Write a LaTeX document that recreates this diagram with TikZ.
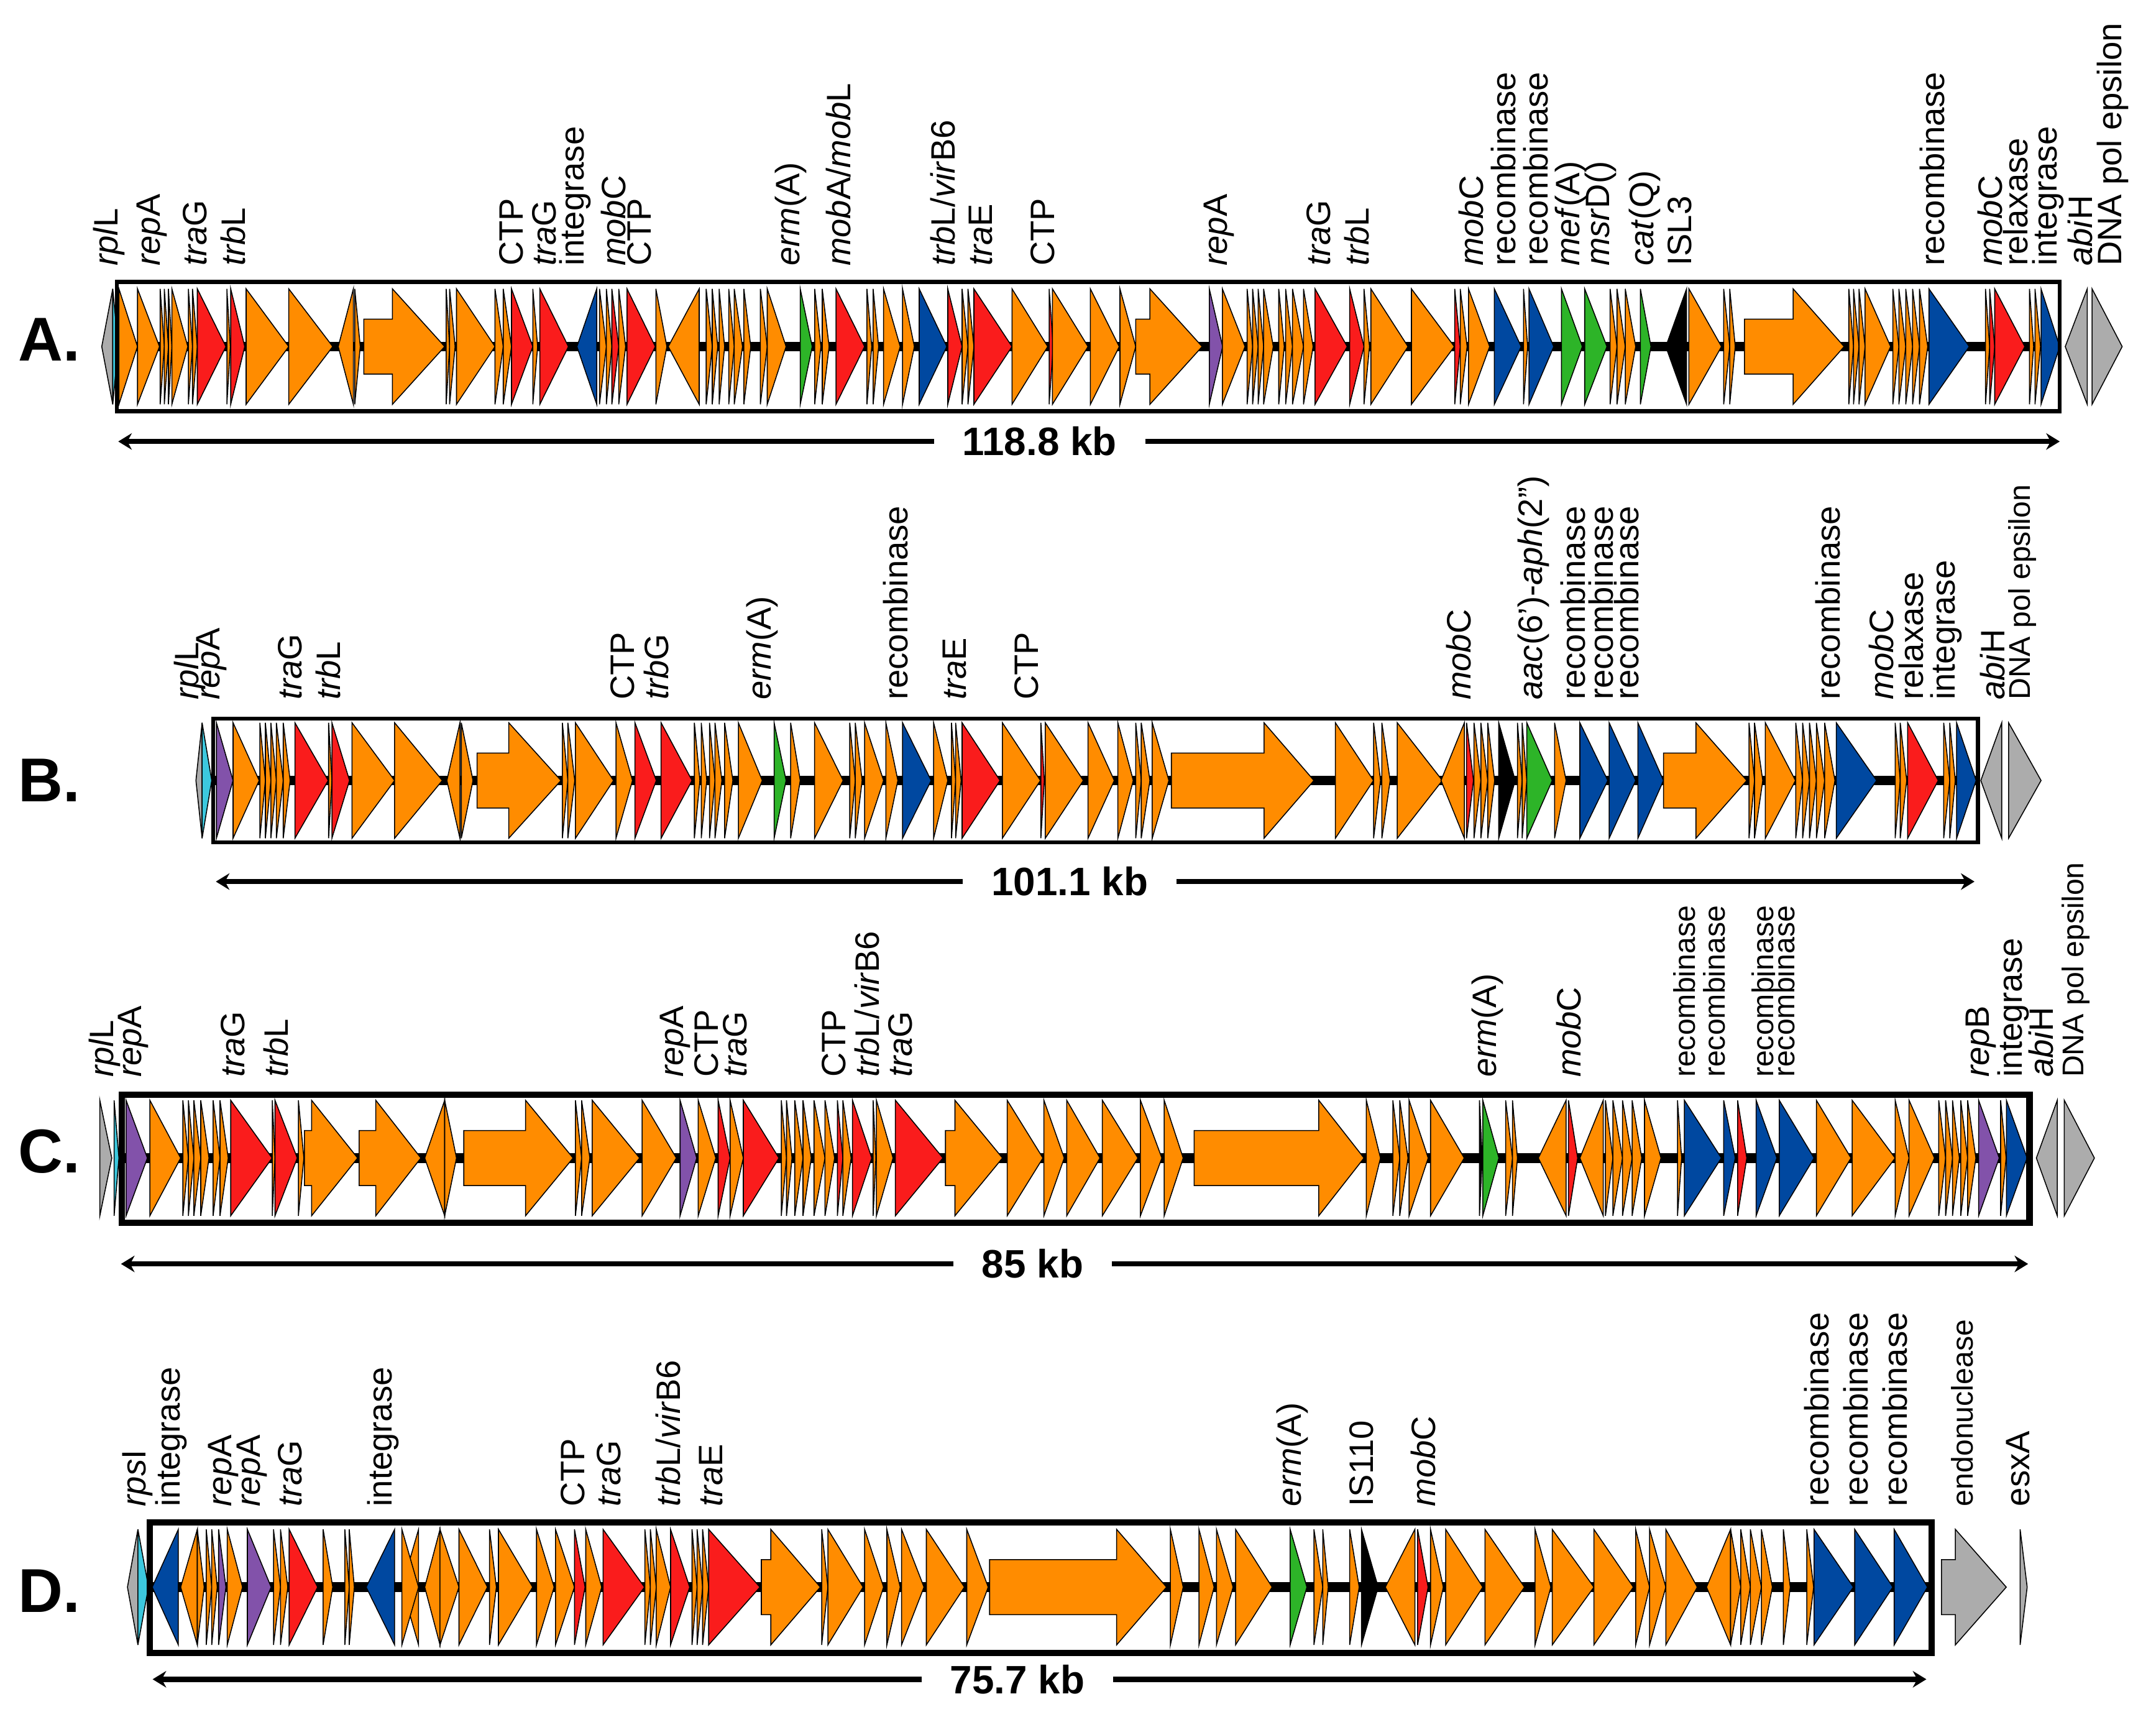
\documentclass[tikz,border=0pt]{standalone}
\usepackage{fontspec}
\setmainfont{Liberation Sans}
\usepackage{tikz}
\usetikzlibrary{arrows.meta}
\definecolor{gor}{RGB}{255,140,0}
\definecolor{grd}{RGB}{250,28,28}
\definecolor{gbl}{RGB}{0,72,160}
\definecolor{ggr}{RGB}{45,180,40}
\definecolor{gpu}{RGB}{130,82,170}
\definecolor{ggy}{RGB}{172,172,172}
\definecolor{gcy}{RGB}{60,200,222}
\definecolor{gbk}{RGB}{0,0,0}
\tikzset{
        gene/.style = {draw=black, line width=0.2pt},
        lbl/.style = {rotate=90, anchor=west, inner sep=0pt,
            font=\fontsize{7}{8}\selectfont},
        lbl_s/.style = {font=\fontsize{6.2}{7}\selectfont},
        rowlab/.style = {inner sep=0pt, font=\fontsize{12.8}{14}\selectfont\bfseries},
        kblab/.style = {inner ysep=0pt, inner xsep=0.2cm,
            font=\fontsize{8.2}{9}\selectfont\bfseries},
        frame_n/.style = {draw=black, line width=0.8pt},
        frame_t/.style = {draw=black, line width=1.3pt},
        spine/.style = {draw=black, line width=2pt},
        kbline/.style = {line width=1.1pt}
    }
% gene as a plain head: start, tip, colour
\newcommand{\gene}[3]{\filldraw[gene,fill=#3] (#1,-42) -- (#1,42) -- (#2,0) -- cycle;}
% gene with a body: start, head start, tip, colour
\newcommand{\longgene}[4]{\filldraw[gene,fill=#4] (#1,-20) -- (#2,-20) -- (#2,-42)
    -- (#3,0) -- (#2,42) -- (#2,20) -- (#1,20) -- cycle;}
% rotated gene label: [options] name, x, text
\newcommand{\glab}[4][]{\node[lbl,#1] (#2) at (#3,-58) {#4};}

\begin{document}
\begin{tikzpicture}[x=0.01cm, y=-0.01cm, >={Stealth[length=2.8pt,width=3.4pt]}]
\useasboundingbox (0,0) rectangle (1568,1248);

%% ---------------- A ----------------
\begin{scope}[shift={(0,252)}]
\node[rowlab] (rowA) at (36,-5) {A.};
\draw[spine] (86,0) -- (1497,0);
\gene{82}{74}{ggy} \gene{82}{86}{gcy}
\gene{86.5}{100}{gor} \gene{100}{116}{gor} \gene{116.5}{119.5}{gor} \gene{119.5}{122.5}{gor}
\gene{122.5}{125}{gor} \gene{125}{136.6}{gor} \gene{137}{140}{gor} \gene{140}{143.5}{gor}
\gene{143.5}{164.3}{grd} \gene{165}{167.5}{gor} \gene{167.8}{178}{grd}
\gene{179}{210}{gor} \gene{210}{242}{gor} \gene{257}{246}{gor} \gene{258}{262}{gor}
\longgene{264.6}{285.4}{323.4}{gor}
\gene{324.5}{327}{gor} \gene{327}{331}{gor} \gene{332}{360}{gor} \gene{360}{366}{gor}
\gene{366}{372}{gor} \gene{372}{387.5}{grd} \gene{387.5}{391}{gor} \gene{392.6}{413.4}{grd}
\gene{434}{419.6}{gbl} \gene{436}{441}{gor} \gene{441}{445}{gor} \gene{445}{450}{grd}
\gene{450}{455}{gor} \gene{456}{476.6}{grd} \gene{477}{485}{gor} \gene{508.5}{486}{gor}
\gene{513.6}{518}{gor} \gene{518}{522}{gor} \gene{523}{527}{gor} \gene{530}{534}{gor}
\gene{534}{540}{gor} \gene{541}{546}{gor} \gene{553}{558}{gor} \gene{558}{571.7}{gor}
\gene{582}{590.7}{ggr} \gene{592.5}{597}{gor} \gene{598}{603}{gor} \gene{608}{628.8}{grd}
\gene{630.5}{634}{gor} \gene{635}{639}{gor} \gene{642.6}{654.7}{gor} \gene{656.4}{665}{gor}
\gene{668.5}{688.6}{gbl} \gene{689.3}{699.7}{grd} \gene{699.7}{704}{gor} \gene{704}{708.3}{gor}
\gene{708.3}{736}{grd} \gene{736}{762}{gor} \gene{763}{766}{grd} \gene{765.4}{791.3}{gor}
\gene{793}{814}{gor} \gene{814.5}{826}{gor}
\longgene{826}{836.3}{874.3}{gor}
\gene{879.5}{889.2}{gpu} \gene{889}{905.5}{gor} \gene{907}{911}{gor} \gene{911}{915}{gor}
\gene{915}{919}{gor} \gene{919}{926}{gor} \gene{930}{934}{gor} \gene{935}{940}{gor}
\gene{940}{948}{gor} \gene{948}{955}{gor} \gene{956.4}{979.8}{grd} \gene{981.6}{992}{grd}
\gene{992}{996}{gor} \gene{997}{1024}{gor} \gene{1026.5}{1057.7}{gor} \gene{1058}{1062}{grd}
\gene{1062}{1067}{gor} \gene{1068}{1083.4}{gor} \gene{1086.8}{1106.3}{gbl} \gene{1108}{1111}{gor}
\gene{1112}{1130}{gbl} \gene{1135.6}{1150.8}{ggr} \gene{1152.5}{1168.7}{ggr}
\gene{1171}{1176}{gor} \gene{1176}{1182}{gor} \gene{1182}{1189.6}{gor} \gene{1193}{1200.7}{ggr}
\gene{1226.6}{1211.5}{gbk} \gene{1228.3}{1252}{gor} \gene{1253.6}{1258}{gor} \gene{1258}{1262}{gor}
\longgene{1268.7}{1304.1}{1341.2}{gor}
\gene{1344.6}{1348}{gor} \gene{1348}{1352}{gor} \gene{1352}{1356.4}{gor} \gene{1356.4}{1375}{gor}
\gene{1376.6}{1381}{gor} \gene{1381}{1386}{gor} \gene{1386}{1391}{gor} \gene{1391}{1396}{gor}
\gene{1396}{1402}{gor} \gene{1402.9}{1432.2}{gbl} \gene{1444}{1447}{gor} \gene{1447}{1450.7}{grd}
\gene{1450.7}{1472.6}{grd} \gene{1476}{1479}{gor} \gene{1480}{1484}{gor} \gene{1484.4}{1498}{gbl}
\gene{1518}{1502}{ggy} \gene{1521.5}{1543.4}{ggy}
\draw[frame_n] (85,-47) rectangle (1498,47);
\glab{la1}{79.5}{\textit{rpl}L} \glab{la2}{110.7}{\textit{rep}A} \glab{la3}{141.8}{\textit{tra}G}
\glab{la4}{169.5}{\textit{trb}L} \glab{la5}{371.8}{CTP} \glab{la6}{396}{\textit{tra}G}
\glab{la7}{418.5}{integrase} \glab{la8}{446}{\textit{mob}C} \glab{la9}{465.2}{CTP}
\glab{la10}{575}{\textit{erm}(A)} \glab{la11}{609.7}{\textit{mob}A/\textit{mob}L}
\glab{la12}{685.8}{\textit{trb}L/\textit{vir}B6} \glab{la13}{713.5}{\textit{tra}E}
\glab{la14}{758.5}{CTP} \glab{la15}{886.5}{\textit{rep}A} \glab{la16}{959}{\textit{tra}G}
\glab{la17}{986.8}{\textit{trb}L} \glab{la18}{1070}{\textit{mob}C} \glab{la19}{1093.5}{recombinase}
\glab{la20}{1117}{recombinase} \glab{la21}{1142.4}{\textit{mef}(A)} \glab{la22}{1164.3}{\textit{msr}D()}
\glab{la23}{1196.3}{\textit{cat}(Q)} \glab{la24}{1221.6}{ISL3} \glab{la25}{1405.2}{recombinase}
\glab{la26}{1447.3}{\textit{mob}C} \glab{la27}{1465.9}{relaxase} \glab{la28}{1489.5}{integrase}
\glab{la29}{1513}{\textit{abi}H} \glab{la30}{1536.6}{DNA pol epsilon}
\end{scope}
\node[kblab] (kbA) at (756,321) {118.8 kb};
\coordinate (kbA_l) at (86,321);
\coordinate (kbA_r) at (1498,321);
\draw[kbline,->] (kbA.west) -- (kbA_l);
\draw[kbline,->] (kbA.east) -- (kbA_r);

%% ---------------- B ----------------
\begin{scope}[shift={(0,567.5)}]
\node[rowlab] (rowB) at (36,0) {B.};
\draw[spine] (156,0) -- (1437,0);
\gene{147}{142.5}{ggy} \gene{147}{154}{gcy}
\gene{157.4}{169.5}{gpu} \gene{169.5}{188.5}{gor} \gene{189}{193}{gor} \gene{193}{197}{gor}
\gene{197}{201}{gor} \gene{201}{206}{gor} \gene{206}{211}{gor} \gene{214.5}{238.7}{grd}
\gene{239}{241.4}{gor} \gene{241.4}{254.2}{grd} \gene{256}{287}{gor} \gene{287}{321.7}{gor}
\gene{334.5}{325}{gor} \gene{335.5}{344}{gor}
\longgene{347}{370}{408}{gor}
\gene{409}{413}{gor} \gene{413}{418}{gor} \gene{418.5}{446.2}{gor} \gene{448}{460}{gor}
\gene{461.8}{477.3}{grd} \gene{480.8}{503.3}{grd} \gene{505}{509}{gor} \gene{510}{514}{gor}
\gene{516}{520}{gor} \gene{520}{525}{gor} \gene{527}{533}{gor} \gene{537}{554.4}{gor}
\gene{563}{571.7}{ggr} \gene{575}{582}{gor} \gene{592.4}{613.2}{gor} \gene{618}{622}{gor}
\gene{622}{627}{gor} \gene{628.8}{642.6}{gor} \gene{644.3}{653}{gor} \gene{656.4}{677.2}{gbl}
\gene{679}{689.3}{gor} \gene{692}{695}{gor} \gene{695}{699}{gor} \gene{699.7}{727.3}{grd}
\gene{729}{756.7}{gor} \gene{757}{759.5}{grd} \gene{760.2}{787.9}{gor} \gene{791.3}{810.4}{gor}
\gene{813}{824.2}{gor} \gene{826}{830}{gor} \gene{830}{836.3}{gor} \gene{838}{850.1}{gor}
\longgene{851.9}{919.3}{955.6}{gor}
\gene{971.2}{998.9}{gor} \gene{999}{1004}{gor} \gene{1005}{1011}{gor} \gene{1016.2}{1049}{gor}
\gene{1065}{1048}{gor} \gene{1066.6}{1071.6}{grd} \gene{1072}{1077}{gor} \gene{1077}{1082}{gor}
\gene{1082}{1087}{gor} \gene{1090}{1102}{gbk} \gene{1103.6}{1107}{gor} \gene{1107}{1110.4}{gor}
\gene{1110.4}{1128.9}{ggr} \gene{1130.6}{1139}{gor} \gene{1149}{1169.3}{gbl}
\gene{1170.3}{1189.6}{gbl} \gene{1191.2}{1209.8}{gbl}
\longgene{1209.8}{1233.4}{1270.4}{gor}
\gene{1272}{1276}{gor} \gene{1276}{1282}{gor} \gene{1283.9}{1305.8}{gor} \gene{1306}{1311}{gor}
\gene{1311}{1316}{gor} \gene{1316}{1321}{gor} \gene{1321}{1327}{gor} \gene{1327}{1334.5}{gor}
\gene{1335.5}{1364.8}{gbl} \gene{1378.3}{1382}{gor} \gene{1382}{1386.7}{gor}
\gene{1387.4}{1409.6}{grd} \gene{1413.6}{1418}{gor} \gene{1418}{1422}{gor} \gene{1423}{1437.2}{gbl}
\gene{1455.8}{1440.6}{ggy} \gene{1460.8}{1484.4}{ggy}
\draw[frame_n] (155,-45) rectangle (1438.5,45);
\glab{lb1}{138}{\textit{rpl}L} \glab{lb2}{154}{\textit{rep}A} \glab{lb3}{211}{\textit{tra}G}
\glab{lb4}{238.7}{\textit{trb}L} \glab{lb5}{453}{CTP} \glab{lb6}{477.3}{\textit{trb}G}
\glab{lb7}{554.4}{\textit{erm}(A)} \glab{lb8}{651.2}{recombinase} \glab{lb9}{694.5}{\textit{tra}E}
\glab{lb10}{746.4}{CTP} \glab{lb11}{1061}{\textit{mob}C}
\glab{lb12}{1115.4}{\textit{aac}(6’)-\textit{aph}(2”)} \glab{lb13}{1144}{recombinase}
\glab{lb14}{1164.3}{recombinase} \glab{lb15}{1182.8}{recombinase} \glab{lb16}{1329.4}{recombinase}
\glab{lb17}{1368.2}{\textit{mob}C} \glab{lb18}{1390}{relaxase} \glab{lb19}{1415.3}{integrase}
\glab{lb20}{1449}{\textit{abi}H} \glab[lbl_s]{lb21}{1470.9}{DNA pol epsilon}
\end{scope}
\node[kblab] (kbB) at (778,641) {101.1 kb};
\coordinate (kbB_l) at (157,641);
\coordinate (kbB_r) at (1436,641);
\draw[kbline,->] (kbB.west) -- (kbB_l);
\draw[kbline,->] (kbB.east) -- (kbB_r);

%% ---------------- C ----------------
\begin{scope}[shift={(0,842)}]
\node[rowlab] (rowC) at (36,-5) {C.};
\draw[spine] (89,0) -- (1475,0);
\gene{72.6}{81.3}{ggy} \gene{83}{86.5}{gcy}
\gene{91.7}{107.2}{gpu} \gene{109}{131.4}{gor} \gene{133}{137}{gor} \gene{137}{141}{gor}
\gene{141}{146}{gor} \gene{146}{152}{gor} \gene{155}{160}{gor} \gene{160}{166}{gor}
\gene{167.8}{197.9}{grd} \gene{198}{200}{gor} \gene{200}{216.2}{grd} \gene{217}{221}{gor}
\longgene{221.4}{226.6}{260.1}{gor}
\longgene{261.2}{273.3}{306.1}{gor}
\gene{323.4}{308.9}{gor} \gene{323.4}{332}{gor}
\longgene{337.3}{382.2}{416.8}{gor}
\gene{418.5}{423}{gor} \gene{423}{429}{gor} \gene{430.7}{465.2}{gor} \gene{467}{491.9}{gor}
\gene{494.6}{506.7}{gpu} \gene{507.8}{520.6}{gor} \gene{522.3}{531}{grd} \gene{531}{540.6}{gor}
\gene{540.6}{566.5}{grd} \gene{568.2}{572}{gor} \gene{572}{576}{gor} \gene{578}{584}{gor}
\gene{584}{590}{gor} \gene{592}{600}{gor} \gene{600}{607}{gor} \gene{609}{613}{grd}
\gene{613}{619}{gor} \gene{620}{634}{grd} \gene{635}{637}{gor} \gene{637.4}{649.5}{gor}
\gene{651.2}{685.8}{grd}
\longgene{687.6}{694.5}{729.1}{gor}
\gene{732.5}{758.5}{gor} \gene{759.2}{774}{gor} \gene{775.8}{800}{gor} \gene{801.7}{827.6}{gor}
\gene{829.4}{845}{gor} \gene{846.7}{860.5}{gor}
\longgene{868.5}{959.1}{992}{gor}
\gene{993.7}{1004}{gor} \gene{1013}{1018}{gor} \gene{1018}{1024}{gor} \gene{1024.8}{1038.7}{gor}
\gene{1040.4}{1064.9}{gor} \gene{1076}{1078}{gbk} \gene{1078.4}{1090.1}{ggr} \gene{1095}{1100}{gor}
\gene{1100}{1103.6}{gor} \gene{1139}{1118.8}{gor} \gene{1140.7}{1147.4}{grd} \gene{1166}{1149}{gor}
\gene{1167.6}{1173}{gor} \gene{1173}{1180}{gor} \gene{1180}{1187}{gor} \gene{1187}{1194}{gor}
\gene{1196}{1208}{gor} \gene{1220}{1223}{gor} \gene{1225}{1251.9}{gbl} \gene{1253.6}{1262}{gbl}
\gene{1263.7}{1270.4}{grd} \gene{1277.2}{1292.3}{gbl} \gene{1294}{1319.3}{gbl}
\gene{1321}{1346.2}{gor} \gene{1347}{1378.3}{gor} \gene{1378.3}{1388.4}{gor} \gene{1388.4}{1406.9}{gor}
\gene{1410}{1415}{gor} \gene{1415}{1420}{gor} \gene{1420}{1425}{gor} \gene{1426}{1431}{gor}
\gene{1431}{1437}{gor} \gene{1439}{1454}{gpu} \gene{1455}{1459}{gor} \gene{1459.2}{1474.3}{gbl}
\gene{1496.2}{1481}{ggy} \gene{1501.3}{1523.2}{ggy}
\draw[frame_t] (88.5,-46) rectangle (1476,47);
\glab{lc1}{76.1}{\textit{rpl}L} \glab{lc2}{96.9}{\textit{rep}A} \glab{lc3}{169.5}{\textit{tra}G}
\glab{lc4}{200.6}{\textit{trb}L} \glab{lc5}{491.2}{\textit{rep}A} \glab{lc6}{513.7}{CTP}
\glab{lc7}{534.4}{\textit{tra}G} \glab{lc8}{606.3}{CTP} \glab{lc9}{630.5}{\textit{trb}L/\textit{vir}B6}
\glab{lc10}{654.7}{\textit{tra}G} \glab{lc11}{1081.7}{\textit{erm}(A)} \glab{lc12}{1140.7}{\textit{mob}C}
\glab[lbl_s]{lc13}{1224.9}{recombinase} \glab[lbl_s]{lc14}{1246.8}{recombinase}
\glab[lbl_s]{lc15}{1282.2}{recombinase} \glab[lbl_s]{lc16}{1297.4}{recombinase}
\glab{lc17}{1440.6}{\textit{rep}B} \glab{lc18}{1464.2}{integrase} \glab{lc19}{1484.4}{\textit{abi}H}
\glab[lbl_s]{lc20}{1509.7}{DNA pol epsilon}
\end{scope}
\node[kblab] (kbC) at (751,919) {85 kb};
\coordinate (kbC_l) at (88,919);
\coordinate (kbC_r) at (1475,919);
\draw[kbline,->] (kbC.west) -- (kbC_l);
\draw[kbline,->] (kbC.east) -- (kbC_r);

%% ---------------- D ----------------
\begin{scope}[shift={(0,1154)}]
\node[rowlab] (rowD) at (36,3) {D.};
\draw[spine] (110,0) -- (1403,0);
\gene{100.3}{92.7}{ggy} \gene{100.3}{108}{gcy}
\gene{129.7}{110.7}{gbl} \gene{143.5}{131.4}{gor} \gene{143.5}{148.5}{gor} \gene{150}{154}{gor}
\gene{154}{158}{gor} \gene{159}{164.3}{gpu} \gene{165.3}{176.4}{gor} \gene{179.9}{197.2}{gpu}
\gene{198.9}{204}{gor} \gene{204}{209.3}{gor} \gene{210.3}{231}{grd} \gene{235}{242}{gor}
\gene{250.8}{254}{gor} \gene{254}{257.7}{gor} \gene{287}{266.3}{gbl} \gene{304.4}{292.3}{gor}
\gene{292.3}{304.4}{gor} \gene{320}{308.9}{gor} \gene{320}{333.8}{gor} \gene{333.8}{354.5}{gor}
\gene{356}{361}{gor} \gene{362.5}{387.4}{gor} \gene{390.2}{403}{gor} \gene{404}{417.8}{gor}
\gene{417.8}{425.5}{grd} \gene{426}{437.6}{gor} \gene{438.6}{468.7}{grd} \gene{469}{473}{gor}
\gene{473}{477.3}{gor} \gene{477.3}{487.7}{gor} \gene{487.7}{501.6}{grd} \gene{503.3}{507}{gor}
\gene{507}{511}{gor} \gene{511}{515.4}{gor} \gene{515.4}{552.7}{grd}
\longgene{553.7}{560.6}{596.6}{gor}
\gene{597.6}{602.1}{gor} \gene{602.1}{627.7}{gor} \gene{628.8}{642.6}{gor} \gene{645}{654.7}{gor}
\gene{655.7}{672}{gor} \gene{673.7}{701.4}{gor} \gene{703.1}{718.7}{gor}
\longgene{719.7}{812.1}{848.4}{gor}
\gene{851.2}{860.5}{gor} \gene{872}{883}{gor} \gene{884.7}{896.8}{gor} \gene{898.6}{925.2}{gor}
\gene{938.3}{950.5}{ggr} \gene{955.6}{962}{gor} \gene{962}{966}{gor} \gene{981.6}{988.5}{gor}
\gene{990.2}{1002.3}{gbk} \gene{1029}{1007.5}{gor} \gene{1031}{1038.6}{grd} \gene{1040.4}{1049.7}{gor}
\gene{1051.4}{1078.4}{gor} \gene{1080}{1108.7}{gor} \gene{1116.4}{1127.9}{gor} \gene{1128.9}{1159.2}{gor}
\gene{1159.2}{1187.9}{gor} \gene{1189.6}{1199.7}{gor} \gene{1199.7}{1211.5}{gor} \gene{1211.5}{1234.4}{gor}
\gene{1258.6}{1241.1}{gor} \gene{1258.6}{1266}{gor} \gene{1266}{1273}{gor} \gene{1273}{1281}{gor}
\gene{1281}{1289}{gor} \gene{1297}{1302}{gor} \gene{1314}{1319}{gor} \gene{1319.3}{1347.9}{gbl}
\gene{1348.9}{1376.6}{gbl} \gene{1377.6}{1401.8}{gbl}
\longgene{1412}{1422.1}{1459.1}{ggy}
\gene{1469.2}{1474.3}{ggy}
\draw[frame_t] (109,-47) rectangle (1405,48);
\glab{ld1}{100.3}{\textit{rps}I} \glab{ld2}{124.5}{integrase} \glab{ld3}{162.6}{\textit{rep}A}
\glab{ld4}{183.3}{\textit{rep}A} \glab{ld5}{211}{\textit{tra}G} \glab{ld6}{278.4}{integrase}
\glab{ld7}{416.8}{CTP} \glab{ld8}{442.8}{\textit{tra}G} \glab{ld9}{486}{\textit{trb}L/\textit{vir}B6}
\glab{ld10}{517.1}{\textit{tra}E} \glab{ld11}{940}{\textit{erm}(A)} \glab{ld12}{990.2}{IS110}
\glab{ld13}{1035.2}{\textit{mob}C} \glab{ld14}{1321}{recombinase} \glab{ld15}{1349.6}{recombinase}
\glab{ld16}{1378.3}{recombinase} \glab[lbl_s]{ld17}{1427.1}{endonuclease} \glab{ld18}{1467.6}{esxA}
\end{scope}
\node[kblab] (kbD) at (740,1221) {75.7 kb};
\coordinate (kbD_l) at (111,1221);
\coordinate (kbD_r) at (1401,1221);
\draw[kbline,->] (kbD.west) -- (kbD_l);
\draw[kbline,->] (kbD.east) -- (kbD_r);
\end{tikzpicture}
\end{document}
